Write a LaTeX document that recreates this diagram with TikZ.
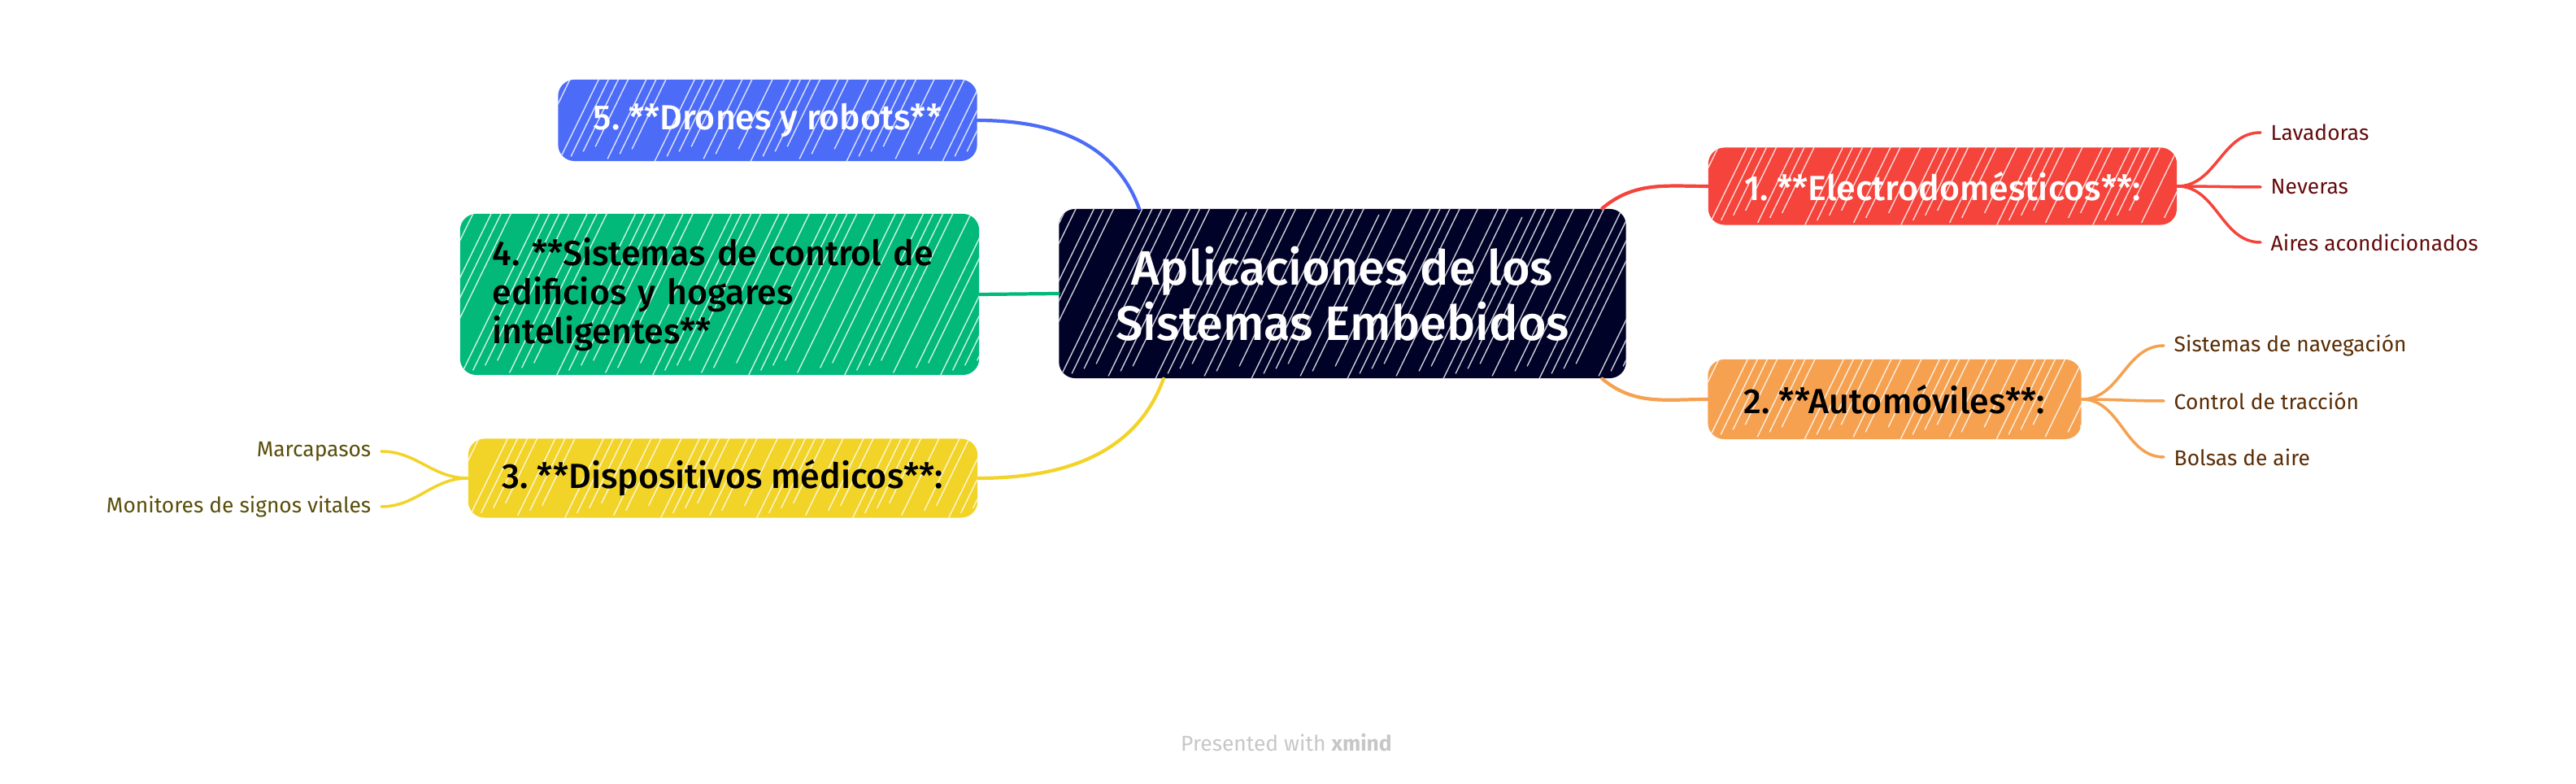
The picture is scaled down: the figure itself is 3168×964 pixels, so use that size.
\documentclass[tikz,border=0pt]{standalone}
\usepackage{fontspec}
\setmainfont{Fira Sans}
\newfontfamily\medfont{Fira Sans Medium}
\frenchspacing
\usetikzlibrary{calc}
\definecolor{centre}{RGB}{1,2,40}
\definecolor{rood}{RGB}{244,68,60}
\definecolor{naranja}{RGB}{245,161,80}
\definecolor{amarillo}{RGB}{242,211,39}
\definecolor{verde}{RGB}{2,185,122}
\definecolor{azul}{RGB}{76,108,248}
\definecolor{hojarood}{RGB}{100,12,12}
\definecolor{hojanaranja}{RGB}{90,45,5}
\definecolor{hojaamarillo}{RGB}{90,78,10}
\tikzset
{
  hatch/.style={path picture={\foreach \k in {0,...,55}
      \draw[white,line width=0.4pt,opacity=0.8] ($(path picture bounding box.south west)+({\k*17+mod(\k*37,13)-130},{mod(\k*23,7)*3})$) -- ++(64:{2.2cm+mod(\k*11,5)*0.15cm});}},
  mainnode/.style={fill=centre,rounded corners=2mm,hatch,text=white,align=center,inner sep=0pt,
    font=\medfont\fontsize{16.9}{19.3}\selectfont,minimum width=6.97cm,minimum height=2.08cm},
  branch/.style={rounded corners=2mm,hatch,inner sep=0pt,font=\medfont\fontsize{12.2}{13.7}\selectfont},
  leaf/.style={inner xsep=1.2mm,inner ysep=0pt,font=\fontsize{7.5}{9}\selectfont},
  link/.style={line width=1.2pt},
  twig/.style={line width=1pt}
}
\begin{document}
\begin{tikzpicture}[x=0.01cm,y=0.01cm,line cap=round]
  \useasboundingbox (0,0) rectangle (3168,964);
  % nodos
  \node[mainnode] (root) at (1651,603) {Aplicaciones de los\\Sistemas Embebidos};
  \node[branch,fill=rood,text=white,minimum width=5.76cm,minimum height=0.95cm] (elec) at (2389,735) {1. **Electrodomésticos**:};
  \node[branch,fill=naranja,minimum width=4.59cm,minimum height=0.98cm] (auto) at (2330,473) {2. **Automóviles**:};
  \node[branch,fill=amarillo,minimum width=6.26cm,minimum height=0.97cm] (medi) at (889,376) {3. **Dispositivos médicos**:};
  \node[branch,fill=verde,minimum width=6.38cm,minimum height=1.98cm,text width=5.58cm,align=left] (edif) at (885,602)
    {4. **Sistemas de control de\\edificios y hogares\\inteligentes**};
  \node[branch,fill=azul,text=white,minimum width=5.15cm,minimum height=1.0cm] (dron) at (944,816) {5. **Drones y robots**};
  % hojas
  \node[leaf,text=hojarood,anchor=west] (lav) at (2780,801) {Lavadoras};
  \node[leaf,text=hojarood,anchor=west] (nev) at (2780,734) {Neveras};
  \node[leaf,text=hojarood,anchor=west] (aire) at (2780,666) {Aires acondicionados};
  \node[leaf,text=hojanaranja,anchor=west] (nav) at (2661,539) {Sistemas de navegación};
  \node[leaf,text=hojanaranja,anchor=west] (trac) at (2661,471) {Control de tracción};
  \node[leaf,text=hojanaranja,anchor=west] (bols) at (2661,402) {Bolsas de aire};
  \node[leaf,text=hojaamarillo,anchor=east] (marc) at (469,409) {Marcapasos};
  \node[leaf,text=hojaamarillo,anchor=east] (moni) at (469,341) {Monitores de signos vitales};
  % ramas principales
  \draw[link,rood] ([xshift=-0.3cm]root.north east) to[out=40,in=180] (elec.west);
  \draw[link,naranja] ([xshift=-0.3cm]root.south east) to[out=-40,in=180] (auto.west);
  \draw[link,amarillo] ([xshift=-2.2cm]root.south) to[out=-110,in=0] (medi.east);
  \draw[link,verde] (edif.east) -- (root.west);
  \draw[link,azul] (dron.east) to[out=0,in=110] ([xshift=-2.5cm]root.north);
  % ramitas
  \foreach \h in {lav,nev,aire}
    \draw[twig,rood] (elec.east) to[out=0,in=180] (\h.west);
  \foreach \h in {nav,trac,bols}
    \draw[twig,naranja] (auto.east) to[out=0,in=180] (\h.west);
  \foreach \h in {marc,moni}
    \draw[twig,amarillo] (medi.west) to[out=180,in=0] (\h.east);
  % pie
  \node[text=black!22,font=\fontsize{7.5}{9}\selectfont] (pie) at (1582,51) {Presented with \textbf{xmind}};
\end{tikzpicture}
\end{document}
